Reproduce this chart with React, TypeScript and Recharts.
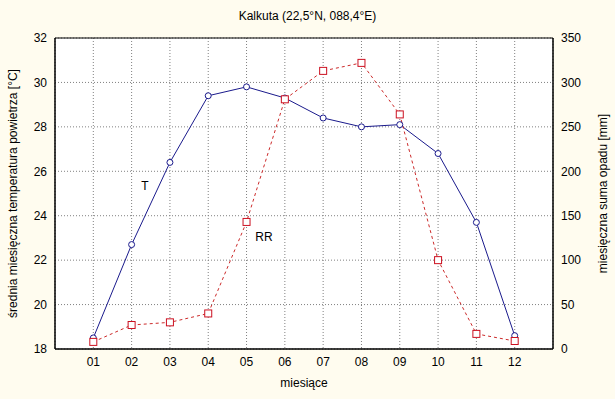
import React from 'react';
import { LineChart, Line, XAxis, YAxis, CartesianGrid, ReferenceArea, Label } from 'recharts';

const months = ['01', '02', '03', '04', '05', '06', '07', '08', '09', '10', '11', '12'];
// T - mean monthly air temperature [°C]
const temperature = [18.5, 22.7, 26.4, 29.4, 29.8, 29.3, 28.4, 28.0, 28.1, 26.8, 23.7, 18.6];
// RR - monthly precipitation total [mm]
const rainfall = [8, 27, 30, 40, 143, 281, 313, 322, 264, 100, 17, 9];
const tempTicks = [18, 20, 22, 24, 26, 28, 30, 32];
const rainTicks = [0, 50, 100, 150, 200, 250, 300, 350];
const monthTicks = months.map((_, i) => i + 1);

const data = months.map((m, i) => ({ idx: i + 1, month: m, t: temperature[i], rr: rainfall[i] }));

const FONT = '"Liberation Sans", Arial, sans-serif';
const BG = '#fffcef';
const tickStyle = { fontSize: 12, fill: '#000', fontFamily: FONT };

const SquareDot = (props: any) => {
    const { cx, cy, index } = props;
    if (cx == null || cy == null) return <g key={`sq-${index}`} />;
    return <rect key={`sq-${index}`} x={cx - 3.5} y={cy - 3.5} width={7} height={7} fill="#fff" stroke="#cc1020" strokeWidth={1} />;
};

const vertTitle = (text: string, dx: number) => ({ viewBox }: any) => {
    const cx = viewBox.x + dx;
    const cy = viewBox.y + viewBox.height / 2;
    return (
        <text x={cx} y={cy} transform={`rotate(-90 ${cx} ${cy})`} textAnchor="middle" dominantBaseline="central"
            style={{ fontSize: 12, fontFamily: FONT, fill: '#000' }}>
            {text}
        </text>
    );
};

const App = () => {
    return (
        <div style={{ position: 'absolute', left: 0, top: 0, width: 615, height: 399, background: BG, fontFamily: FONT }}>
            <div style={{ position: 'absolute', top: 9, left: 0, width: 615, textAlign: 'center', fontSize: 12, color: '#000' }}>
                Kalkuta (22,5°N, 088,4°E)
            </div>
            <LineChart width={615} height={399} data={data} margin={{ top: 38, right: 0, bottom: 0, left: 0 }}>
                <CartesianGrid yAxisId="left" fill="#fff" stroke="#808080" strokeDasharray="1 2" />
                <XAxis
                    type="number"
                    dataKey="idx"
                    domain={[0, 13]}
                    ticks={monthTicks}
                    tickFormatter={(v: number) => months[v - 1] ?? ''}
                    tick={tickStyle}
                    tickLine={false}
                    axisLine={{ stroke: '#000' }}
                    height={50}
                    interval={0}
                >
                    <Label
                        content={({ viewBox }: any) => (
                            <text x={viewBox.x + viewBox.width / 2} y={viewBox.y + 34} textAnchor="middle" dominantBaseline="central"
                                style={{ fontSize: 12, fontFamily: FONT, fill: '#000' }}>
                                miesiące
                            </text>
                        )}
                    />
                </XAxis>
                <YAxis
                    yAxisId="left"
                    domain={[18, 32]}
                    ticks={tempTicks}
                    tick={tickStyle}
                    tickLine={false}
                    axisLine={{ stroke: '#000' }}
                    width={55}
                    allowDataOverflow
                >
                    <Label content={vertTitle('średnia miesięczna temperatura powietrza [°C]', 13)} />
                </YAxis>
                <YAxis
                    yAxisId="right"
                    orientation="right"
                    domain={[0, 350]}
                    ticks={rainTicks}
                    tick={tickStyle}
                    tickLine={false}
                    axisLine={{ stroke: '#000' }}
                    width={62}
                    allowDataOverflow
                >
                    <Label content={vertTitle('miesięczna suma opadu [mm]', 50)} />
                </YAxis>
                <Line
                    yAxisId="left"
                    dataKey="t"
                    type="linear"
                    stroke="#1a1a8c"
                    strokeWidth={1}
                    dot={{ r: 3, fill: '#fff', stroke: '#1a1a8c', strokeWidth: 1 }}
                    activeDot={false}
                    isAnimationActive={false}
                />
                <Line
                    yAxisId="right"
                    dataKey="rr"
                    type="linear"
                    stroke="#cc2a2a"
                    strokeWidth={1}
                    strokeDasharray="3 3"
                    dot={SquareDot}
                    activeDot={false}
                    isAnimationActive={false}
                />
                <ReferenceArea yAxisId="left" x1={0} x2={13} y1={18} y2={32} fill="none" fillOpacity={0} stroke="#000" strokeWidth={1} />
            </LineChart>
            <div style={{ position: 'absolute', left: 145, top: 186, transform: 'translate(-50%, -50%)', fontSize: 12, color: '#000' }}>T</div>
            <div style={{ position: 'absolute', left: 264, top: 237, transform: 'translate(-50%, -50%)', fontSize: 12, color: '#000' }}>RR</div>
        </div>
    );
};

export default App;
